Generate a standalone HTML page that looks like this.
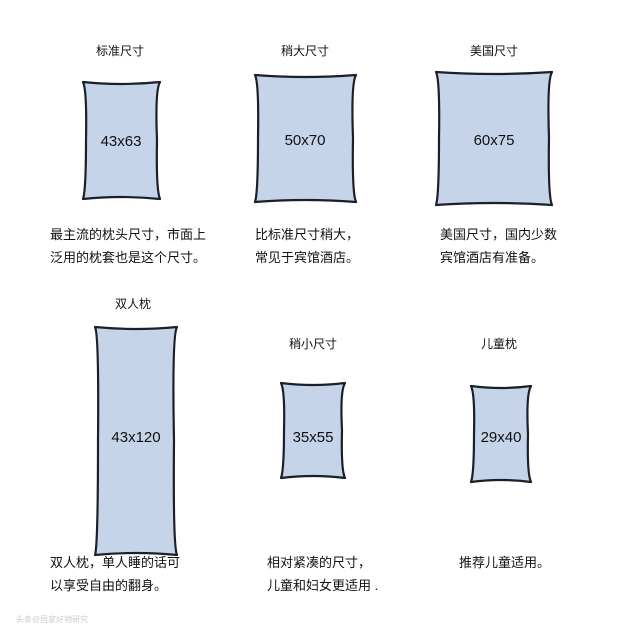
<!DOCTYPE html>
<html><head><meta charset="utf-8"><style>
html,body{margin:0;padding:0;background:#fff;width:640px;height:640px;overflow:hidden}
text{font-family:"Liberation Sans","Noto Sans CJK SC",sans-serif;fill:#111}
</style></head><body>
<svg width="640" height="640" viewBox="0 0 640 640" xmlns="http://www.w3.org/2000/svg">
<g fill="#c6d4e9" stroke="#1a1f2a" stroke-width="2.2" stroke-linejoin="round">
<path d="M83 82 Q121 86 160 82 Q155 90 157 140 Q156 190 160 199 Q121 195 83 199 Q86 190 86 140 Q87 90 83 82Z"/>
<path d="M255 75 Q305 79 356 75 Q351 83 353 138 Q352 193 356 202 Q305 198 255 202 Q258 193 258 138 Q259 83 255 75Z"/>
<path d="M436 72 Q494 76 552 72 Q547 80 549 138 Q548 196 552 205 Q494 201 436 205 Q439 196 439 138 Q440 80 436 72Z"/>
<path d="M95 327 Q136 331 177 327 Q172 335 174 441 Q173 546 177 555 Q136 551 95 555 Q98 546 98 441 Q99 335 95 327Z"/>
<path d="M281 383 Q313 387 345 383 Q340 391 342 430 Q341 470 345 478 Q313 474 281 478 Q284 470 284 430 Q285 391 281 383Z"/>
<path d="M471 386 Q501 390 531 386 Q526 394 528 434 Q527 474 531 482 Q501 478 471 482 Q474 474 474 434 Q475 394 471 386Z"/>
</g>
<g font-size="15" text-anchor="middle">
<text x="121" y="146">43x63</text>
<text x="305" y="145">50x70</text>
<text x="494" y="145">60x75</text>
<text x="136" y="442">43x120</text>
<text x="313" y="442">35x55</text>
<text x="501" y="442">29x40</text>
</g>
<g font-size="12" text-anchor="middle">
<text x="120" y="55">标准尺寸</text>
<text x="305" y="55">稍大尺寸</text>
<text x="494" y="55">美国尺寸</text>
<text x="133" y="308">双人枕</text>
<text x="313" y="348">稍小尺寸</text>
<text x="499" y="348">儿童枕</text>
</g>
<g font-size="13">
<text x="50" y="239">最主流的枕头尺寸，市面上</text>
<text x="50" y="262">泛用的枕套也是这个尺寸。</text>
<text x="255" y="239">比标准尺寸稍大，</text>
<text x="255" y="262">常见于宾馆酒店。</text>
<text x="440" y="239">美国尺寸，国内少数</text>
<text x="440" y="262">宾馆酒店有准备。</text>
<text x="50" y="567">双人枕，单人睡的话可</text>
<text x="50" y="590">以享受自由的翻身。</text>
<text x="267" y="567">相对紧凑的尺寸，</text>
<text x="267" y="590">儿童和妇女更适用 .</text>
<text x="459" y="567">推荐儿童适用。</text>
</g>
<text x="16" y="622" font-size="8" style="fill:#ccc">头条@居家好物研究</text>
</svg>
</body></html>
